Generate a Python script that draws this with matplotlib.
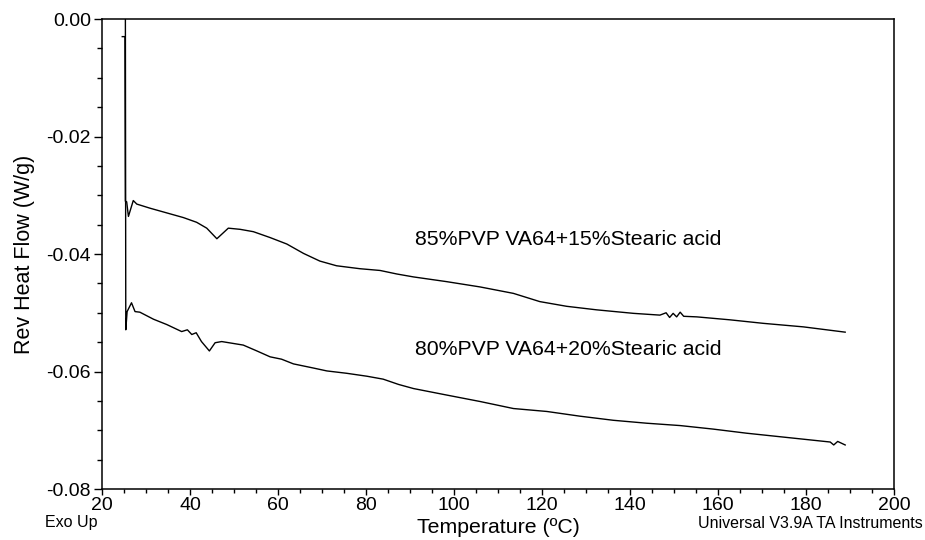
import matplotlib.pyplot as plt
from matplotlib.ticker import MultipleLocator, FormatStrFormatter

plt.rcParams['font.family'] = ['Liberation Sans', 'DejaVu Sans']

# 85% PVP VA64 + 15% stearic acid (temperature in C, rev heat flow in W/g)
temp_85 = [24.6, 25.2, 25.3, 25.6, 26.0, 27.1, 27.9, 30.9, 34.7, 38.5, 41.5, 43.8,
           46.1, 48.7, 51.4, 54.4, 58.2, 62.0, 65.8, 69.5, 73.3, 78.6, 83.2, 87.0,
           90.8, 98.3, 105.9, 113.5, 119.5, 125.6, 132.4, 140.8, 146.8, 148.2,
           149.0, 149.8, 150.6, 151.4, 152.2, 155.2, 162.7, 170.3, 179.4, 188.9]
flow_85 = [-0.0030, -0.0030, -0.0310, -0.0311, -0.0336, -0.0309, -0.0315, -0.0322,
           -0.0330, -0.0338, -0.0346, -0.0356, -0.0374, -0.0356, -0.0358, -0.0362,
           -0.0372, -0.0383, -0.0399, -0.0412, -0.0420, -0.0425, -0.0428, -0.0434,
           -0.0439, -0.0447, -0.0456, -0.0467, -0.0481, -0.0489, -0.0495, -0.0501,
           -0.0504, -0.0500, -0.0508, -0.0501, -0.0507, -0.0499, -0.0506, -0.0507,
           -0.0512, -0.0518, -0.0524, -0.0533]

# 80% PVP VA64 + 20% stearic acid
temp_80 = [25.3, 25.4, 25.7, 26.7, 27.5, 28.6, 31.7, 34.7, 38.1, 39.4, 40.4, 41.4,
           42.6, 44.4, 45.7, 47.2, 52.1, 55.2, 58.2, 60.8, 63.5, 68.0, 71.1, 75.6,
           80.2, 83.9, 87.4, 90.8, 98.3, 105.9, 113.5, 121.1, 128.6, 136.2, 143.8,
           151.4, 158.9, 166.5, 174.1, 181.7, 185.5, 186.3, 187.2, 188.9]
flow_80 = [0.0050, -0.0529, -0.0498, -0.0483, -0.0498, -0.0499, -0.0511, -0.0520,
           -0.0532, -0.0529, -0.0537, -0.0534, -0.0549, -0.0565, -0.0551, -0.0549,
           -0.0555, -0.0565, -0.0575, -0.0579, -0.0587, -0.0594, -0.0599, -0.0603,
           -0.0608, -0.0613, -0.0622, -0.0629, -0.0640, -0.0651, -0.0663, -0.0668,
           -0.0676, -0.0683, -0.0688, -0.0692, -0.0698, -0.0705, -0.0711, -0.0717,
           -0.0720, -0.0725, -0.0719, -0.0725]

fig = plt.figure(figsize=(9.25, 5.4), dpi=100)
ax = fig.add_axes([0.1103, 0.0944, 0.8562, 0.8704])

ax.plot(temp_85, flow_85, color='black', lw=1.0)
ax.plot(temp_80, flow_80, color='black', lw=1.0)

ax.text(91.1, -0.0376, '85%PVP VA64+15%Stearic acid', fontsize=15.3, va='center')
ax.text(91.1, -0.0563, '80%PVP VA64+20%Stearic acid', fontsize=15.3, va='center')

ax.set_xlim(20, 200)
ax.set_ylim(-0.08, 0.0)
ax.xaxis.set_major_locator(MultipleLocator(20))
ax.xaxis.set_minor_locator(MultipleLocator(5))
ax.yaxis.set_major_locator(MultipleLocator(0.02))
ax.yaxis.set_minor_locator(MultipleLocator(0.005))
ax.yaxis.set_major_formatter(FormatStrFormatter('%.2f'))

ax.tick_params(axis='both', which='both', direction='out', labelsize=14, width=1.0)
ax.tick_params(axis='x', which='major', length=4.5, pad=1)
ax.tick_params(axis='x', which='minor', length=3)
ax.tick_params(axis='y', which='major', length=6, pad=2)
ax.tick_params(axis='y', which='minor', length=3.6)
for s in ax.spines.values():
    s.set_linewidth(1.1)

ax.set_xlabel('Temperature (ºC)', fontsize=15.3, labelpad=3)
ax.set_ylabel('Rev Heat Flow (W/g)', fontsize=15.5, labelpad=8)

fig.text(45 / 925, 1 - 523 / 540, 'Exo Up', fontsize=11.5, va='center', ha='left')
fig.text(923 / 925, 1 - 523 / 540, 'Universal V3.9A TA Instruments', fontsize=11.5,
         va='center', ha='right')

fig.savefig('out.png', dpi=100)
